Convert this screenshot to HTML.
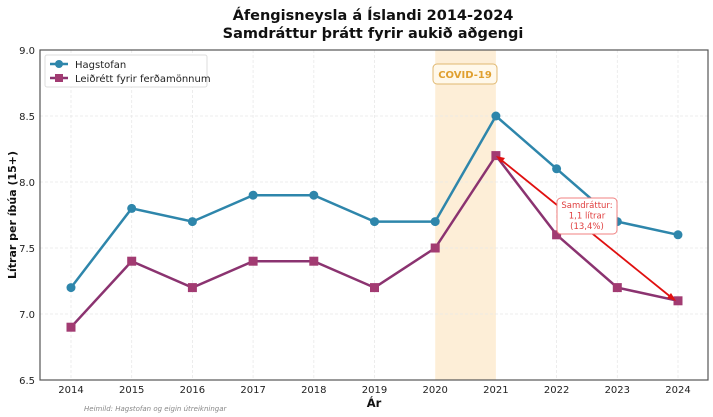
<!DOCTYPE html>
<html><head><meta charset="utf-8"><style>body{margin:0;background:#fff}svg{display:block}</style></head><body>
<svg width="713" height="417" xmlns="http://www.w3.org/2000/svg" font-family="DejaVu Sans, Liberation Sans, sans-serif">
<rect width="713" height="417" fill="#fff"/>
<text x="373" y="20" font-size="14.5" font-weight="bold" text-anchor="middle" fill="#111">Áfengisneysla á Íslandi 2014-2024</text>
<text x="373" y="38" font-size="14.5" font-weight="bold" text-anchor="middle" fill="#111">Samdráttur þrátt fyrir aukið aðgengi</text>
<rect x="435.2" y="50" width="60.7" height="330" fill="#fdebd0" opacity="0.85"/>
<g stroke="#e8e8e8" stroke-dasharray="3,2" stroke-width="0.8">
<line x1="40" x2="708" y1="116" y2="116"/><line x1="40" x2="708" y1="182" y2="182"/><line x1="40" x2="708" y1="248" y2="248"/><line x1="40" x2="708" y1="314" y2="314"/>
<line x1="71" x2="71" y1="50" y2="380"/><line x1="131.7" x2="131.7" y1="50" y2="380"/><line x1="192.4" x2="192.4" y1="50" y2="380"/><line x1="253.1" x2="253.1" y1="50" y2="380"/><line x1="313.8" x2="313.8" y1="50" y2="380"/><line x1="374.5" x2="374.5" y1="50" y2="380"/><line x1="556.6" x2="556.6" y1="50" y2="380"/><line x1="617.3" x2="617.3" y1="50" y2="380"/><line x1="678" x2="678" y1="50" y2="380"/>
</g>
<rect x="40" y="50" width="668" height="330" fill="none" stroke="#555" stroke-width="1.2"/>
<g font-size="10" fill="#222" text-anchor="end">
<text x="35" y="54">9.0</text><text x="35" y="120">8.5</text><text x="35" y="186">8.0</text><text x="35" y="252">7.5</text><text x="35" y="318">7.0</text><text x="35" y="384">6.5</text>
</g>
<g font-size="10" fill="#222" text-anchor="middle">
<text x="71" y="393">2014</text><text x="131.7" y="393">2015</text><text x="192.4" y="393">2016</text><text x="253.1" y="393">2017</text><text x="313.8" y="393">2018</text><text x="374.5" y="393">2019</text><text x="435.2" y="393">2020</text><text x="495.9" y="393">2021</text><text x="556.6" y="393">2022</text><text x="617.3" y="393">2023</text><text x="678" y="393">2024</text>
</g>
<text x="374" y="407" font-size="11.5" font-weight="bold" text-anchor="middle" fill="#111">Ár</text>
<text x="16" y="215" font-size="11" font-weight="bold" text-anchor="middle" fill="#111" transform="rotate(-90 16 215)">Lítrar per íbúa (15+)</text>
<text x="84" y="411" font-size="7" font-style="italic" fill="#888">Heimild: Hagstofan og eigin útreikningar</text>
<rect x="433" y="64" width="64" height="20" rx="4" fill="#fff8ea" stroke="#e0b870" stroke-width="1"/>
<text x="465" y="78" font-size="10" font-weight="bold" text-anchor="middle" fill="#e0a030">COVID-19</text>
<polyline fill="none" stroke="#2E86AB" stroke-width="2.5" points="71,287.6 131.7,208.4 192.4,221.6 253.1,195.2 313.8,195.2 374.5,221.6 435.2,221.6 495.9,116 556.6,168.8 617.3,221.6 678,234.8"/>
<g fill="#2E86AB"><circle cx="71" cy="287.6" r="4.5"/><circle cx="131.7" cy="208.4" r="4.5"/><circle cx="192.4" cy="221.6" r="4.5"/><circle cx="253.1" cy="195.2" r="4.5"/><circle cx="313.8" cy="195.2" r="4.5"/><circle cx="374.5" cy="221.6" r="4.5"/><circle cx="435.2" cy="221.6" r="4.5"/><circle cx="495.9" cy="116" r="4.5"/><circle cx="556.6" cy="168.8" r="4.5"/><circle cx="617.3" cy="221.6" r="4.5"/><circle cx="678" cy="234.8" r="4.5"/></g>
<polyline fill="none" stroke="#8B3370" stroke-width="2.5" points="71,327.2 131.7,261.2 192.4,287.6 253.1,261.2 313.8,261.2 374.5,287.6 435.2,248 495.9,155.6 556.6,234.8 617.3,287.6 678,300.8"/>
<g fill="#A23B72"><rect x="66.5" y="322.7" width="9" height="9"/><rect x="127.2" y="256.7" width="9" height="9"/><rect x="187.9" y="283.1" width="9" height="9"/><rect x="248.6" y="256.7" width="9" height="9"/><rect x="309.3" y="256.7" width="9" height="9"/><rect x="370" y="283.1" width="9" height="9"/><rect x="430.7" y="243.5" width="9" height="9"/><rect x="491.4" y="151.1" width="9" height="9"/><rect x="552.1" y="230.3" width="9" height="9"/><rect x="612.8" y="283.1" width="9" height="9"/><rect x="673.5" y="296.3" width="9" height="9"/></g>
<line x1="500" y1="159" x2="672" y2="298" stroke="#e01010" stroke-width="1.8"/>
<polygon points="496,156 505,158 501,163" fill="#e01010"/>
<polygon points="676,301 667,298 671,293" fill="#e01010"/>
<rect x="557" y="198" width="60" height="36" rx="4" fill="#fff" stroke="#f08080" stroke-width="1"/>
<g font-size="8.5" fill="#e04040" text-anchor="middle"><text x="587" y="208">Samdráttur:</text><text x="587" y="218.5">1,1 lítrar</text><text x="587" y="229">(13,4%)</text></g>
<rect x="45" y="55" width="162" height="32" fill="#fff" stroke="#ddd" rx="2"/>
<line x1="50" y1="64" x2="68" y2="64" stroke="#2E86AB" stroke-width="2.5"/><circle cx="59" cy="64" r="4" fill="#2E86AB"/>
<line x1="50" y1="78" x2="68" y2="78" stroke="#8B3370" stroke-width="2.5"/><rect x="55" y="74" width="8" height="8" fill="#A23B72"/>
<text x="75" y="68" font-size="10" fill="#222">Hagstofan</text>
<text x="75" y="82" font-size="10" fill="#222">Leiðrétt fyrir ferðamönnum</text>
</svg>
</body></html>
